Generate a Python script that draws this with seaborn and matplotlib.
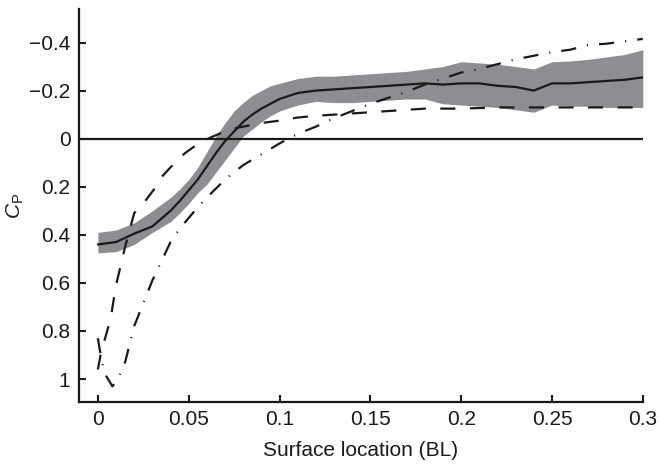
import matplotlib
matplotlib.use('Agg')
import matplotlib.pyplot as plt
import numpy as np
import pandas as pd
import seaborn as sns

# measured mean Cp with spread band
x_mean = [0, 0.01, 0.02, 0.03, 0.04, 0.045, 0.05, 0.055, 0.06, 0.065, 0.07,
          0.075, 0.08, 0.085, 0.09, 0.095, 0.10, 0.11, 0.12, 0.13, 0.14,
          0.15, 0.16, 0.17, 0.18, 0.19, 0.20, 0.21, 0.22, 0.23, 0.24,
          0.25, 0.26, 0.27, 0.28, 0.29, 0.30]
cp_mean = [0.44, 0.43, 0.395, 0.365, 0.30, 0.26, 0.215, 0.17, 0.115, 0.06, 0.01,
           -0.03, -0.07, -0.10, -0.125, -0.145, -0.165, -0.19, -0.20, -0.205, -0.21,
           -0.215, -0.22, -0.225, -0.23, -0.225, -0.23, -0.23, -0.22, -0.215, -0.20,
           -0.23, -0.23, -0.235, -0.24, -0.245, -0.255]
cp_top = [0.39, 0.38, 0.35, 0.30, 0.245, 0.21, 0.17, 0.12, 0.055, -0.01, -0.065,
          -0.115, -0.15, -0.18, -0.20, -0.22, -0.23, -0.25, -0.26, -0.26, -0.265,
          -0.27, -0.275, -0.28, -0.29, -0.30, -0.32, -0.315, -0.31, -0.30, -0.29,
          -0.32, -0.323, -0.33, -0.34, -0.35, -0.37]
cp_bot = [0.475, 0.47, 0.44, 0.39, 0.345, 0.31, 0.27, 0.225, 0.19, 0.14, 0.09,
          0.04, -0.01, -0.04, -0.07, -0.095, -0.115, -0.14, -0.155, -0.15, -0.15,
          -0.155, -0.16, -0.165, -0.165, -0.145, -0.14, -0.135, -0.13, -0.12, -0.11,
          -0.14, -0.135, -0.135, -0.13, -0.13, -0.13]

# dashed model
x_dash = [0, 0.002, 0.004, 0.007, 0.01, 0.015, 0.02, 0.026, 0.032, 0.035, 0.043,
          0.048, 0.056, 0.063, 0.073, 0.08, 0.09, 0.10, 0.11, 0.12, 0.14,
          0.16, 0.18, 0.20, 0.22, 0.24, 0.26, 0.28, 0.30]
cp_dash = [0.96, 0.88, 0.83, 0.75, 0.61, 0.45, 0.31, 0.26, 0.20, 0.16, 0.095,
           0.06, 0.017, -0.008, -0.04, -0.05, -0.065, -0.075, -0.088, -0.095, -0.105,
           -0.115, -0.125, -0.125, -0.13, -0.13, -0.13, -0.13, -0.13]

# dash-dot model
x_dd = [0, 0.002, 0.004, 0.008, 0.011, 0.015, 0.02, 0.03, 0.04, 0.045, 0.05,
        0.055, 0.06, 0.07, 0.08, 0.09, 0.10, 0.11, 0.12, 0.13, 0.14,
        0.15, 0.16, 0.17, 0.18, 0.19, 0.20, 0.21, 0.22, 0.23, 0.24,
        0.25, 0.26, 0.27, 0.28, 0.29, 0.30]
cp_dd = [0.83, 0.92, 0.98, 1.03, 1.00, 0.93, 0.78, 0.59, 0.43, 0.375, 0.33,
         0.285, 0.245, 0.17, 0.11, 0.065, 0.02, -0.02, -0.05, -0.085, -0.115,
         -0.145, -0.17, -0.195, -0.225, -0.25, -0.275, -0.29, -0.31, -0.33, -0.345,
         -0.36, -0.37, -0.39, -0.395, -0.405, -0.415]

sns.set_style('ticks')
plt.rcParams['font.family'] = ['Liberation Sans', 'DejaVu Sans']
plt.rcParams['mathtext.fontset'] = 'custom'
plt.rcParams['mathtext.rm'] = 'Liberation Sans'
plt.rcParams['mathtext.it'] = 'Liberation Sans:italic'

ink = '#1a1a1a'
fig = plt.figure(figsize=(6.62, 4.66), dpi=100)
ax = fig.add_axes([0.119, 0.137, 0.852, 0.844])

ax.fill_between(x_mean, cp_top, cp_bot, color='#8d8e91', linewidth=0)
ax.axhline(0, color=ink, lw=1.6)
sns.lineplot(x=x_mean, y=cp_mean, ax=ax, color=ink, lw=1.6)
sns.lineplot(x=x_dash, y=cp_dash, ax=ax, color=ink, lw=1.6,
             sort=False).lines[-1].set_dashes([6.8, 6.5])
sns.lineplot(x=x_dd, y=cp_dd, ax=ax, color=ink, lw=1.6,
             sort=False).lines[-1].set_dashes([6.8, 5, 0.5, 5])

ax.set_xlim(-0.0105, 0.3)
ax.set_ylim(1.096, -0.54)
ax.set_xticks([0, 0.05, 0.1, 0.15, 0.2, 0.25, 0.3])
ax.set_xticklabels(['0', '0.05', '0.1', '0.15', '0.2', '0.25', '0.3'])
ax.set_yticks([-0.4, -0.2, 0, 0.2, 0.4, 0.6, 0.8, 1])
ax.set_yticklabels(['\u22120.4', '\u22120.2', '0', '0.2', '0.4', '0.6', '0.8', '1'])
ax.tick_params(direction='in', length=5, width=1.5, labelsize=15, colors=ink, pad=6)
for side in ['top', 'right']:
    ax.spines[side].set_visible(False)
for side in ['left', 'bottom']:
    ax.spines[side].set_linewidth(1.6)
    ax.spines[side].set_color(ink)

ax.set_xlabel('Surface location (BL)', fontsize=15, color=ink, labelpad=8)
ax.set_ylabel(r'$C_\mathrm{P}$', fontsize=15, color=ink, labelpad=2)

fig.savefig('out.png', dpi=100)
